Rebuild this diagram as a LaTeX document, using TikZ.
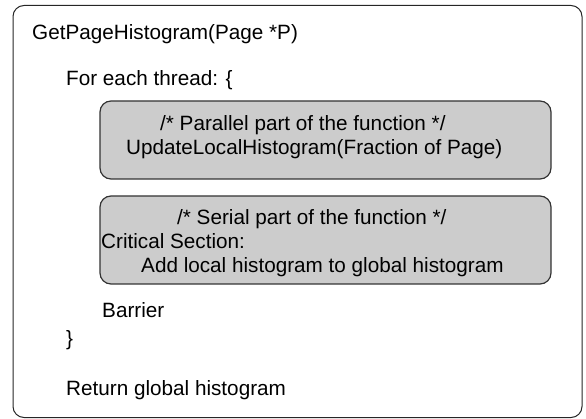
\documentclass[tikz,border=0pt]{standalone}
\usepackage{fontspec}
\setmainfont{Liberation Sans}
\begin{document}
\begin{tikzpicture}[x=1pt,y=-1pt,
  outerbox/.style={draw=black!85,line width=1pt,rounded corners=11pt},
  graybox/.style={draw=black!80,fill=black!20,line width=1.2pt,rounded corners=11pt},
  codeline/.style={anchor=base west,inner sep=0pt,font=\fontsize{20.7}{24}\selectfont,text=black}]
\useasboundingbox (0,0) rectangle (586,419);
\node[outerbox,minimum width=569pt,minimum height=412pt,inner sep=0pt] (frame) at (297.5,211.5) {};
\node[graybox,minimum width=451pt,minimum height=78pt,inner sep=0pt] (par) at (325.5,140) {};
\node[graybox,minimum width=451pt,minimum height=88pt,inner sep=0pt] (ser) at (325.5,240) {};
\node[codeline] (t1) at (32,40) {GetPageHistogram(Page *P)};
\node[codeline] (t2) at (66,86) {For each thread: \{};
\node[codeline] (p1) at (160,131) {/* Parallel part of the function */};
\node[codeline] (p2) at (126,154.5) {UpdateLocalHistogram(Fraction of Page)};
\node[codeline] (s1) at (177,225) {/* Serial part of the function */};
\node[codeline] (s2) at (101,248.5) {Critical Section:};
\node[codeline] (s3) at (141,273) {Add local histogram to global histogram};
\node[codeline] (b) at (102,318) {Barrier};
\node[codeline] (cb) at (66,345) {\}};
\node[codeline] (r) at (66,395) {Return global histogram};
\end{tikzpicture}
\end{document}
